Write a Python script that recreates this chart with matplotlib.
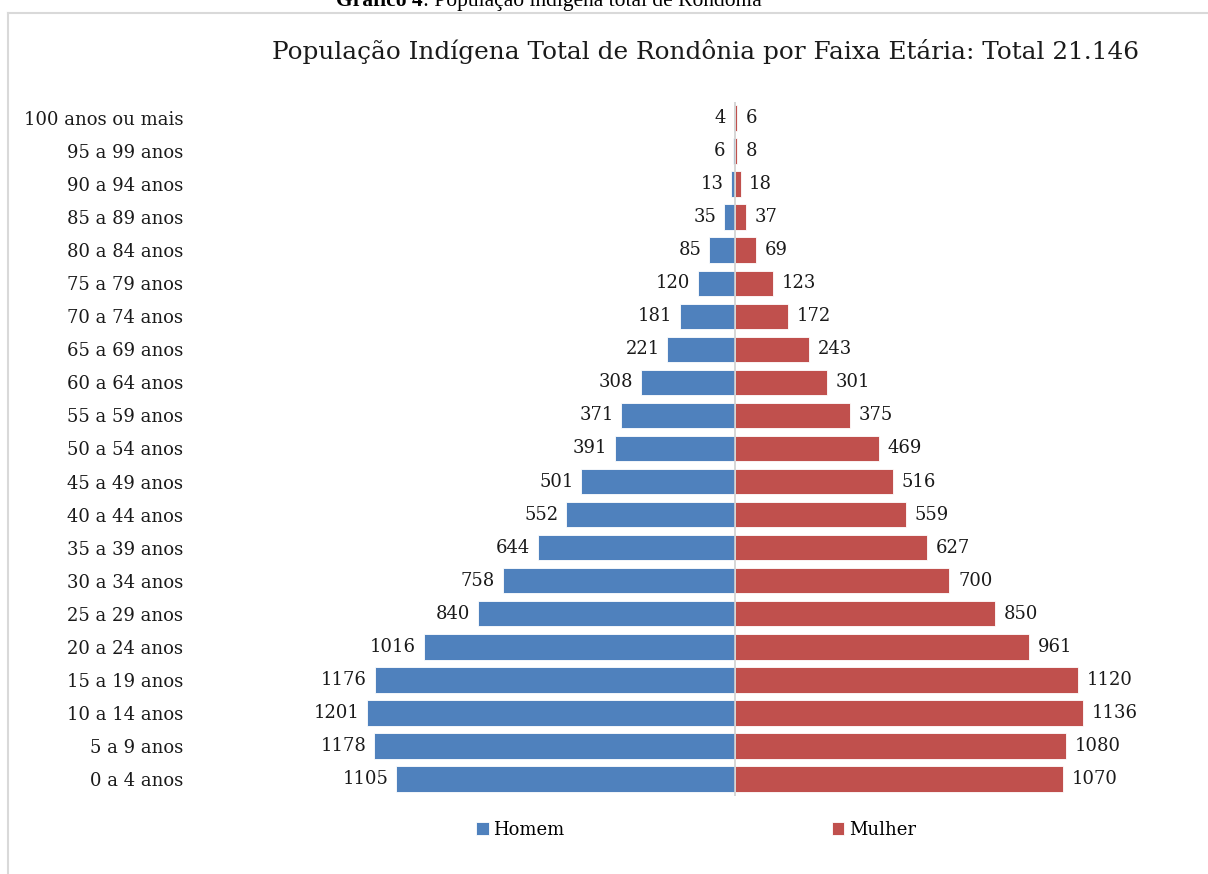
import matplotlib.pyplot as plt
from matplotlib.lines import Line2D

faixas = ["0 a 4 anos", "5 a 9 anos", "10 a 14 anos", "15 a 19 anos", "20 a 24 anos",
          "25 a 29 anos", "30 a 34 anos", "35 a 39 anos", "40 a 44 anos", "45 a 49 anos",
          "50 a 54 anos", "55 a 59 anos", "60 a 64 anos", "65 a 69 anos", "70 a 74 anos",
          "75 a 79 anos", "80 a 84 anos", "85 a 89 anos", "90 a 94 anos", "95 a 99 anos",
          "100 anos ou mais"]
homem = [1105, 1178, 1201, 1176, 1016, 840, 758, 644, 552, 501, 391, 371, 308, 221, 181,
         120, 85, 35, 13, 6, 4]
mulher = [1070, 1080, 1136, 1120, 961, 850, 700, 627, 559, 516, 469, 375, 301, 243, 172,
          123, 69, 37, 18, 8, 6]

azul = "#4f81bd"
vermelho = "#c0504d"
serif = ["DejaVu Serif"]
times = ["Liberation Serif", "DejaVu Serif"]

W, H = 1208, 874
fig = plt.figure(figsize=(W / 100, H / 100), dpi=100)

# axes placed in pixels: centre line at x=735, rows from y=118 to y=779
ax_l, ax_r = 190, 1190
ax_top, ax_bot = 102, 796
ax = fig.add_axes([ax_l / W, 1 - ax_bot / H, (ax_r - ax_l) / W, (ax_bot - ax_top) / H])
esc = 368 / 1201.0  # px per person
ax.set_xlim(-(735 - ax_l) / esc, (ax_r - 735) / esc)
passo = (779 - 118) / 20.0
ax.set_ylim(-(ax_bot - 779) / passo, 20 + (118 - ax_top) / passo)

y = list(range(len(faixas)))
hneg = [-v for v in homem]
ax.barh(y, hneg, height=0.77, color=azul, edgecolor="white", linewidth=0.6, label="Homem")
ax.barh(y, mulher, height=0.77, color=vermelho, edgecolor="white", linewidth=0.6, label="Mulher")
ax.axvline(0, color="#d0d0d0", lw=1.2)

for i in range(len(faixas)):
    ax.text(-homem[i] - 25, y[i], str(homem[i]), ha="right", va="center",
            fontsize=13, family=serif, color="#1a1a1a")
    ax.text(mulher[i] + 28, y[i], str(mulher[i]), ha="left", va="center",
            fontsize=13, family=serif, color="#1a1a1a")

ax.set_yticks(y)
ax.set_yticklabels(faixas, fontsize=13, family=serif, color="#1a1a1a")
ax.tick_params(axis="y", length=0, pad=5)
ax.set_xticks([])
for s in ax.spines.values():
    s.set_visible(False)

fig.text(705 / W, 1 - 51 / H, "População Indígena Total de Rondônia por Faixa Etária: Total 21.146",
         ha="center", va="center", fontsize=17.8, family=serif, color="#1a1a1a")

# caption cut by the top edge
fig.text(423 / W, 1 - 6 / H, "Gráfico 4", ha="right", va="baseline", fontsize=15.5,
         family=times, weight="bold")
fig.text(423 / W, 1 - 6 / H, ": População indígena total de Rondônia", ha="left",
         va="baseline", fontsize=15.5, family=times)

# frame lines of the chart box
fig.add_artist(Line2D([8 / W, 1], [1 - 13 / H, 1 - 13 / H], color="#d9d9d9", lw=1.5))
fig.add_artist(Line2D([8 / W, 8 / W], [0, 1 - 13 / H], color="#d9d9d9", lw=1.5))

fig.legend(loc="center", bbox_to_anchor=(696 / W, 1 - 830 / H), ncol=2, frameon=False,
           handlelength=0.7, handleheight=0.75, handletextpad=0.25, columnspacing=14.8,
           prop={"family": serif, "size": 13})

plt.savefig("out.png", dpi=100)
